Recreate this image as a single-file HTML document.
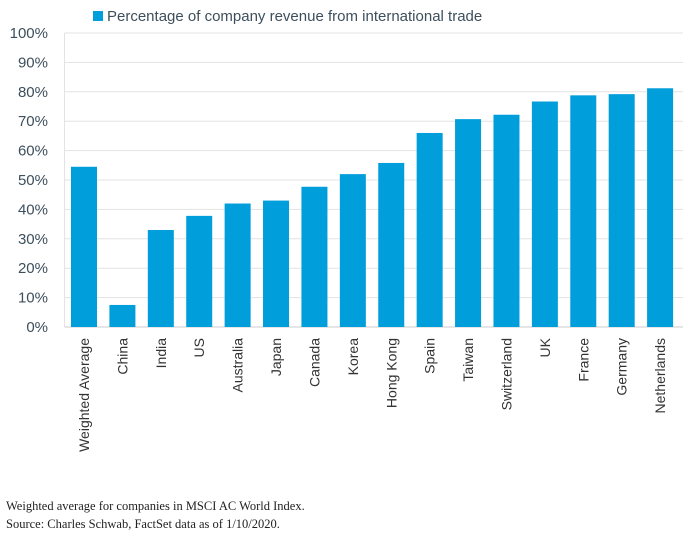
<!DOCTYPE html>
<html><head><meta charset="utf-8"><style>
body{margin:0;background:#fff;width:695px;height:537px;overflow:hidden;font-family:"Liberation Sans",sans-serif}
.foot{position:absolute;left:6px;font-family:"Liberation Serif",serif;font-size:12.5px;color:#222}
</style></head><body>
<svg id="c" width="695" height="495" style="position:absolute;left:0;top:0"></svg>
<div class="foot" style="top:499px">Weighted average for companies in MSCI AC World Index.</div>
<div class="foot" style="top:517px">Source: Charles Schwab, FactSet data as of 1/10/2020.</div>
<script>
const categories=["Weighted Average","China","India","US","Australia","Japan","Canada","Korea","Hong Kong","Spain","Taiwan","Switzerland","UK","France","Germany","Netherlands"];
const values=[54.5,7.5,33,37.8,42,43,47.7,52,55.8,66,70.7,72.2,76.7,78.8,79.2,81.2];
const ticks=[0,10,20,30,40,50,60,70,80,90,100];
const tickLabels=ticks.map(t=>t+"%");
const svg=document.getElementById('c');const NS="http://www.w3.org/2000/svg";
const L=64.5,R=679,T=33,B=327;
const y=v=>B-(B-T)*v/100;
const step=(R-L)/categories.length;
const x=i=>L+step*i+6.5;
function mk(t,a){const e=document.createElementNS(NS,t);for(const k in a)e.setAttribute(k,a[k]);svg.appendChild(e);return e;}
ticks.forEach((t,i)=>{
 const g=mk('line',{x1:L,x2:R+4,y1:y(t),y2:y(t),stroke:i==0?'#ccc':'#e3e3e3','stroke-width':1});
 
 
 const tx=mk('text',{x:48,y:y(t)+5,'text-anchor':'end','font-size':15,fill:'#3d4f5c'});
 tx.textContent=tickLabels[i];
 
 
});
const ax=mk('line',{x1:L,x2:L,y1:T,y2:B,stroke:'#e3e3e3'});


categories.forEach((c,i)=>{
 const r=mk('rect',{x:x(i),y:y(values[i]),width:26,height:B-y(values[i]),fill:'#009edb'});
 
 
 const cx=x(i)+13+5;
 const t=mk('text',{x:cx,y:338,'text-anchor':'end','font-size':14,fill:'#333',transform:`rotate(-90 ${cx} 338)`});
 t.textContent=c;
 
 
});
const lr=mk('rect',{x:93,y:11,width:10,height:10,fill:'#009edb'});


const lt=mk('text',{x:107,y:21,'font-size':15,fill:'#3d4f5c'});
lt.textContent="Percentage of company revenue from international trade";


</script>
</body></html>
